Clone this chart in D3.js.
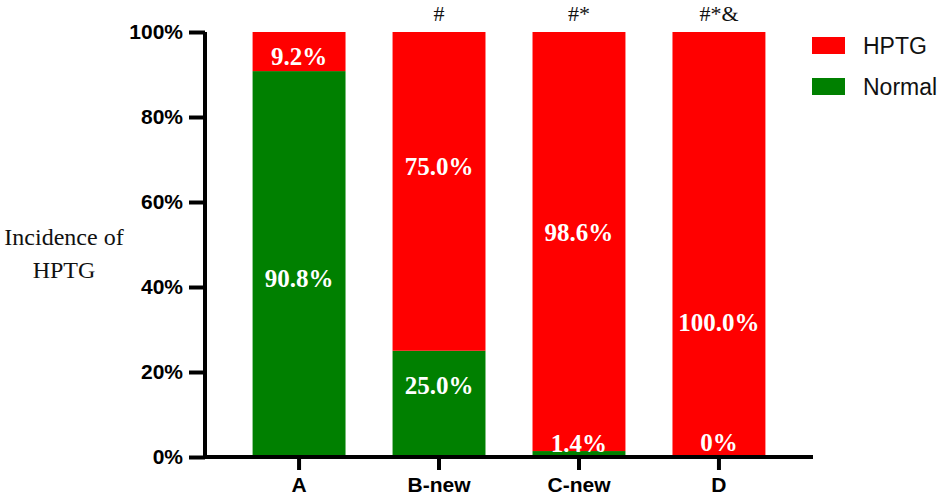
<!DOCTYPE html>
<html>
<head>
<meta charset="utf-8">
<script src="https://cdn.jsdelivr.net/npm/d3@7"></script>
<style>
  body { margin: 0; background: #fff; }
  svg { display: block; }
  .tick text { font-family: "Liberation Sans", Arial, sans-serif; font-weight: bold; }
</style>
</head>
<body>
<svg id="chart" width="945" height="496"></svg>
<script>
// values (percent)
const groups = ['A', 'B-new', 'C-new', 'D'];
const hptg = [9.2, 75.0, 98.6, 100.0];
const normal = [90.8, 25.0, 1.4, 0];
const marks = ['', '#', '#*', '#*&'];
// where the authors put each label, in percent units on the y scale
const hptgLabelAt = [94.4, 68.5, 53, 31.8];
const normalLabelAt = [42.1, 17, 3.3, 3.5];
const yticks = [0, 20, 40, 60, 80, 100];

const RED = '#ff0000';
const GREEN = '#008000';

const svg = d3.select('#chart');

const x = d3.scaleBand()
  .domain(groups)
  .range([205, 813])
  .paddingInner(0.336)
  .paddingOuter(0.34);

const y = d3.scaleLinear()
  .domain([0, 100])
  .range([457, 32]);

const rows = groups.map((g, i) => ({group: g, normal: normal[i], hptg: hptg[i]}));
const series = d3.stack().keys(['normal', 'hptg'])(rows);
const colors = {normal: GREEN, hptg: RED};

// bars
svg.append('g')
  .selectAll('g')
  .data(series)
  .join('g')
    .attr('fill', d => colors[d.key])
  .selectAll('rect')
  .data(d => d)
  .join('rect')
    .attr('x', d => x(d.data.group))
    .attr('width', x.bandwidth())
    .attr('y', d => y(d[1]))
    .attr('height', d => y(d[0]) - y(d[1]));

// value labels
const fmt = v => v === 0 ? '0%' : v.toFixed(1) + '%';
const labels = [];
groups.forEach((g, i) => {
  labels.push({group: g, text: fmt(hptg[i]), at: hptgLabelAt[i]});
  labels.push({group: g, text: fmt(normal[i]), at: normalLabelAt[i]});
});
svg.append('g')
  .selectAll('text')
  .data(labels)
  .join('text')
    .attr('x', d => x(d.group) + x.bandwidth() / 2)
    .attr('y', d => y(d.at))
    .attr('dy', '0.35em')
    .attr('text-anchor', 'middle')
    .attr('fill', '#fff')
    .style('font-family', '"Liberation Serif", "Times New Roman", serif')
    .style('font-weight', 'bold')
    .style('font-size', '25px')
    .text(d => d.text);

// significance marks
svg.append('g')
  .selectAll('text')
  .data(groups)
  .join('text')
    .attr('x', d => x(d) + x.bandwidth() / 2)
    .attr('y', 21)
    .attr('text-anchor', 'middle')
    .attr('fill', '#111')
    .style('font-family', '"Liberation Serif", "Times New Roman", serif')
    .style('font-size', '22px')
    .text((d, i) => marks[i]);

// Y axis
const yAxis = svg.append('g')
  .attr('transform', 'translate(205,0)')
  .call(d3.axisLeft(y)
    .tickValues(yticks)
    .tickFormat(d => d + '%')
    .tickSize(16)
    .tickSizeOuter(0)
    .tickPadding(6));

// X axis
const xAxis = svg.append('g')
  .attr('transform', 'translate(0,457)')
  .call(d3.axisBottom(x)
    .tickSize(13)
    .tickSizeOuter(0)
    .tickPadding(7));

[yAxis, xAxis].forEach(ax => {
  ax.select('.domain').attr('stroke', '#000').attr('stroke-width', 4);
  ax.selectAll('.tick line').attr('stroke', '#000').attr('stroke-width', 4);
  ax.selectAll('.tick text')
    .attr('fill', '#000')
    .style('font-size', '21px');
});
xAxis.select('.domain').attr('d', 'M203,0H813');
yAxis.select('.domain').attr('d', 'M0,32V459');

// Y axis title
svg.append('text')
  .attr('x', 64)
  .attr('y', 245)
  .attr('text-anchor', 'middle')
  .style('font-family', '"Liberation Serif", "Times New Roman", serif')
  .style('font-size', '24px')
  .attr('fill', '#111')
  .selectAll('tspan')
  .data(['Incidence of', 'HPTG'])
  .join('tspan')
    .attr('x', 64)
    .attr('dy', (d, i) => i === 0 ? 0 : 33)
    .text(d => d);

// legend
const legendKeys = ['hptg', 'normal'];
const legendNames = {hptg: 'HPTG', normal: 'Normal'};
const legend = svg.append('g')
  .selectAll('g')
  .data(legendKeys)
  .join('g')
    .attr('transform', (d, i) => `translate(812,${37 + i * 41})`);
legend.append('rect')
  .attr('width', 33)
  .attr('height', 17)
  .attr('fill', d => colors[d]);
legend.append('text')
  .attr('x', 51)
  .attr('y', 17)
  .attr('fill', '#111')
  .style('font-family', '"Liberation Sans", Arial, sans-serif')
  .style('font-size', '23px')
  .text(d => legendNames[d]);
</script>
</body>
</html>
